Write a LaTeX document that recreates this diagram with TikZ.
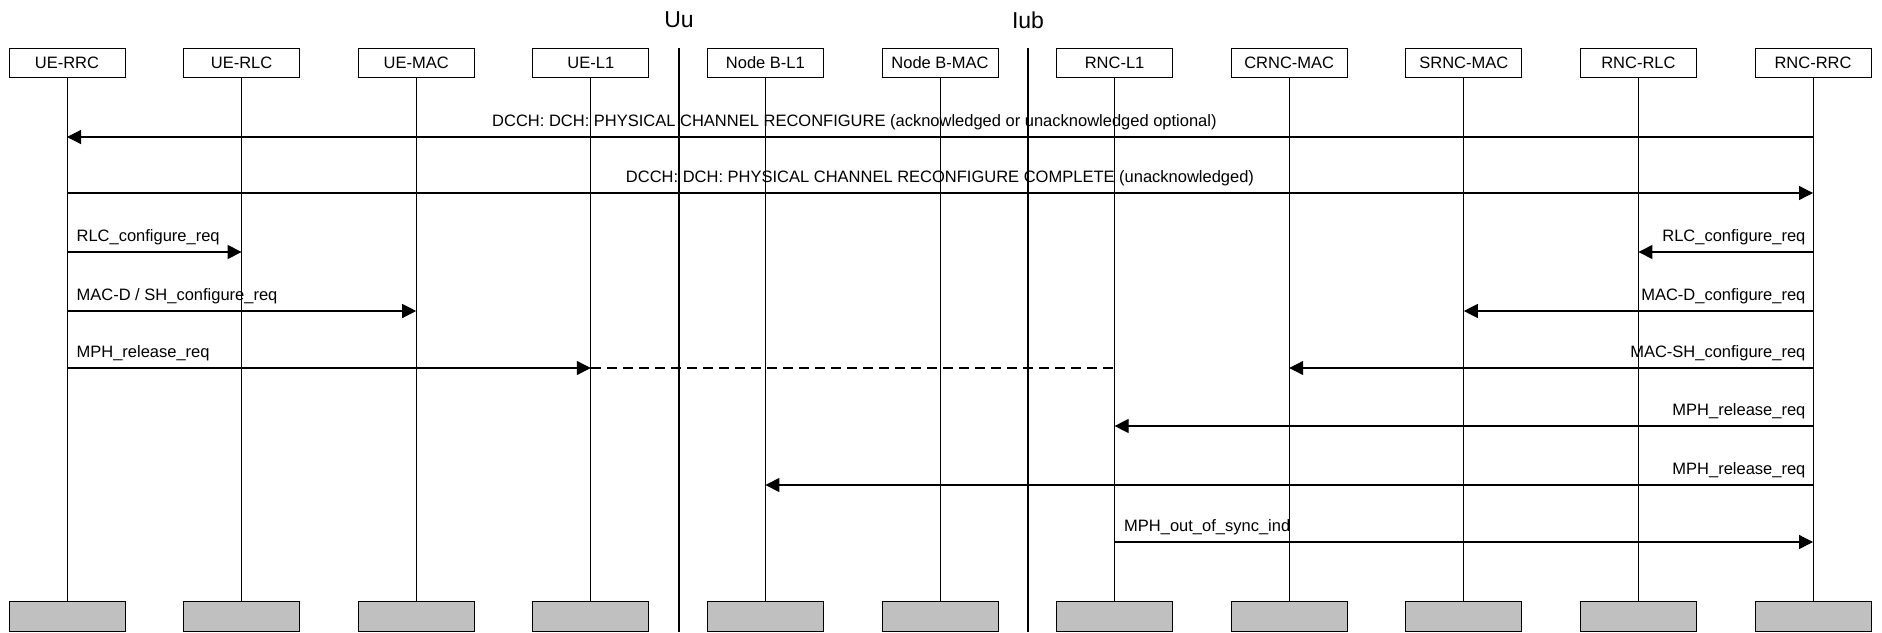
\documentclass[tikz,border=0pt]{standalone}
\usepackage{fontspec}
\setmainfont{Liberation Sans}
\usetikzlibrary{arrows.meta}
\definecolor{boxgray}{HTML}{C0C0C0}

\begin{document}
\begin{tikzpicture}[x=0.5pt,y=-0.5pt,>={Triangle[length=7pt,width=7pt]},
	font=\fontsize{8.25}{10}\selectfont,
	entity/.style={draw,line width=0.5pt,minimum width=58pt,minimum height=14.5pt,inner sep=0pt},
	endbox/.style={entity,fill=boxgray,minimum height=15pt},
	life/.style={line width=0.5pt},
	divider/.style={line width=1pt},
	msg/.style={->,line width=0.6pt},
	lblL/.style={anchor=base west,xshift=4.5pt,yshift=5.5pt,inner sep=0pt},
	lblR/.style={anchor=base east,xshift=-3.5pt,yshift=5.5pt,inner sep=0pt},
	lblC/.style={anchor=base,yshift=5.5pt,inner sep=0pt}]
	\useasboundingbox (0,0) rectangle (1882,632);
	\def\gap{174.6}
	% Thực thể, đường đời và hộp cuối
	\foreach \name/\txt [count=\i from 0] in {ueRRC/UE-RRC,ueRLC/UE-RLC,ueMAC/UE-MAC,ueL1/UE-L1,nbL1/Node B-L1,nbMAC/Node B-MAC,rncL1/RNC-L1,crncMAC/CRNC-MAC,srncMAC/SRNC-MAC,rncRLC/RNC-RLC,rncRRC/RNC-RRC}{
		\node[entity] (\name) at ({67+\gap*\i},62.5) {\txt};
		\node[endbox] (\name-end) at ({67+\gap*\i},616) {};
		\draw[life] (\name) -- (\name-end);
	}
	% Giao diện Uu và Iub
	\node[font=\fontsize{11.5}{14}\selectfont] (uu) at (679,20) {Uu};
	\node[font=\fontsize{11.5}{14}\selectfont] (iub) at (1028,20) {Iub};
	\draw[divider] (uu |- 0,48) -- (uu |- 0,632);
	\draw[divider] (iub |- 0,48) -- (iub |- 0,632);
	% Các bản tin
	\draw[msg] (rncRRC |- 0,137) -- (ueRRC |- 0,137) node[lblC,pos=0.549] {DCCH: DCH: PHYSICAL CHANNEL RECONFIGURE (acknowledged or unacknowledged optional)};
	\draw[msg] (ueRRC |- 0,193) -- (rncRRC |- 0,193) node[lblC,pos=0.5] {DCCH: DCH: PHYSICAL CHANNEL RECONFIGURE COMPLETE (unacknowledged)};
	\draw[msg] (ueRRC |- 0,252) node[lblL] {RLC\_configure\_req} -- (ueRLC |- 0,252);
	\draw[msg] (rncRRC |- 0,252) node[lblR] {RLC\_configure\_req} -- (rncRLC |- 0,252);
	\draw[msg] (ueRRC |- 0,311) node[lblL] {MAC-D / SH\_configure\_req} -- (ueMAC |- 0,311);
	\draw[msg] (rncRRC |- 0,311) node[lblR] {MAC-D\_configure\_req} -- (srncMAC |- 0,311);
	\draw[msg] (ueRRC |- 0,368) node[lblL] {MPH\_release\_req} -- (ueL1 |- 0,368);
	\draw[line width=0.8pt,dash pattern=on 5pt off 3pt] (ueL1 |- 0,368) -- (rncL1 |- 0,368); % Đường đứt nét qua Uu và Iub
	\draw[msg] (rncRRC |- 0,368) node[lblR] {MAC-SH\_configure\_req} -- (crncMAC |- 0,368);
	\draw[msg] (rncRRC |- 0,426) node[lblR] {MPH\_release\_req} -- (rncL1 |- 0,426);
	\draw[msg] (rncRRC |- 0,485) node[lblR] {MPH\_release\_req} -- (nbL1 |- 0,485);
	\draw[msg] (rncL1 |- 0,542) node[lblL] {MPH\_out\_of\_sync\_ind} -- (rncRRC |- 0,542);
\end{tikzpicture}
\end{document}
